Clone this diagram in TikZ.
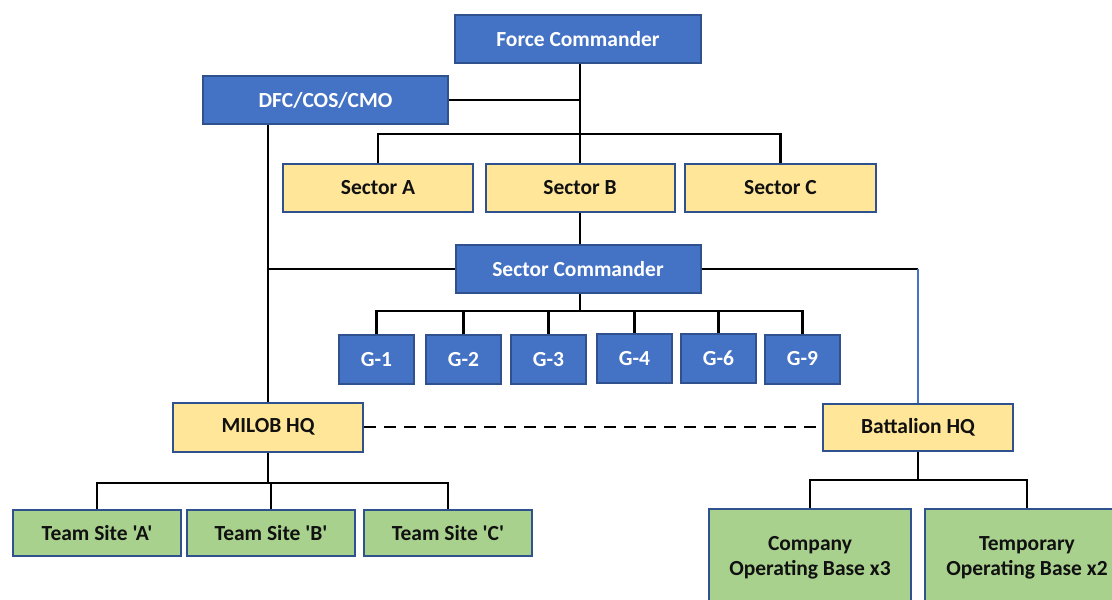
\documentclass[tikz,border=0pt]{standalone}
\usepackage{fontspec}
\setmainfont{Carlito}[Ligatures=TeXOff]
\definecolor{bluefill}{HTML}{4472C4}
\definecolor{boxedge}{HTML}{2F528F}
\definecolor{yelfill}{HTML}{FFE699}
\definecolor{grnfill}{HTML}{A9D18E}
\definecolor{txtdark}{HTML}{111111}
\tikzset{
  basebox/.style={draw=boxedge, line width=2pt, inner sep=0pt, font=\fontsize{21.5}{25}\selectfont\bfseries, align=center},
  bluebox/.style={basebox, fill=bluefill, text=white},
  yelbox/.style={basebox, fill=yelfill, text=txtdark},
  grnbox/.style={basebox, fill=grnfill, text=txtdark},
  conn/.style={draw=black, line width=2.4pt},
  blueconn/.style={draw=bluefill, line width=1.8pt},
  dashconn/.style={draw=black, line width=2.4pt, dash pattern=on 12pt off 8pt}
}
\begin{document}
\begin{tikzpicture}[x=1pt,y=-1pt]
\useasboundingbox (0,0) rectangle (1112,600);
\begin{scope}
\clip (0,0) rectangle (1112,600);
\coordinate (busS) at (580,134);
\coordinate (busG) at (580,311);
\coordinate (busT) at (268,483);
\coordinate (busB) at (918,480);

% nodes
\node[bluebox, minimum width=246pt, minimum height=48pt] (FC) at (578,39) {Force Commander};
\node[bluebox, minimum width=245pt, minimum height=48pt] (DFC) at (325.5,100) {DFC/COS/CMO};
\node[yelbox, minimum width=190pt, minimum height=48pt] (SA) at (378,188) {Sector A};
\node[yelbox, minimum width=189pt, minimum height=48pt] (SB) at (580,188) {Sector B};
\node[yelbox, minimum width=191pt, minimum height=48pt] (SCc) at (780.5,188) {Sector C};
\node[bluebox, minimum width=245pt, minimum height=48pt] (SCmd) at (578,269) {Sector Commander};
\node[bluebox, minimum width=75pt, minimum height=49pt] (G1) at (376.5,359.5) {G-1};
\node[bluebox, minimum width=75pt, minimum height=49pt] (G2) at (463.5,359.5) {G-2};
\node[bluebox, minimum width=75pt, minimum height=49pt] (G3) at (548.5,359.5) {G-3};
\node[bluebox, minimum width=75pt, minimum height=49pt] (G4) at (634.5,358.5) {G-4};
\node[bluebox, minimum width=75pt, minimum height=49pt] (G6) at (718.5,358.5) {G-6};
\node[bluebox, minimum width=75pt, minimum height=49pt] (G9) at (802.5,359) {G-9};
\node[yelbox, minimum width=190pt, minimum height=49pt] (MIL) at (268,427) {MILOB HQ};
\node[yelbox, minimum width=190pt, minimum height=47pt] (BHQ) at (918,427) {Battalion HQ};
\node[grnbox, minimum width=168pt, minimum height=46pt] (TA) at (97,533) {Team Site 'A'};
\node[grnbox, minimum width=168pt, minimum height=46pt] (TB) at (271,533) {Team Site 'B'};
\node[grnbox, minimum width=168pt, minimum height=46pt] (TC) at (448,533) {Team Site 'C'};
\node[grnbox, minimum width=202pt, minimum height=97pt] (COB) at (810,557.5) {Company\\Operating Base x3};
\node[grnbox, minimum width=204pt, minimum height=97pt] (TOB) at (1027,557.5) {Temporary\\Operating Base x2};

% Force commander links
\coordinate (fcs) at (FC.south -| SB.north);
\draw[conn] (fcs) -- (SB.north);
\draw[conn] (DFC.east) -- (DFC.east -| SB.north);
\draw[conn] (SA.north) |- (busS) -| (SCc.north);
\draw[conn] (SB.south) -- (SB.south |- SCmd.north);
% DFC down to MILOB
\draw[conn] (DFC.south -| MIL.north) -- (MIL.north);
\draw[conn] (SCmd.west) -- (SCmd.west -| MIL.north);
% Sector commander to battalion
\coordinate (scb) at (SCmd.east -| BHQ.north);
\draw[conn] (SCmd.east) -- (scb);
\draw[blueconn] (scb) -- (BHQ.north);
% G bus
\draw[conn] (SB.south |- SCmd.south) -- (busG);
\draw[conn] (G1.north) |- (busG) -| (G9.north);
\draw[conn] (G2.north) -- (G2.north |- busG);
\draw[conn] (G3.north) -- (G3.north |- busG);
\draw[conn] (G4.north) -- (G4.north |- busG);
\draw[conn] (G6.north) -- (G6.north |- busG);
% dashed
\draw[dashconn] (MIL.east) -- (BHQ.west);
% team sites
\draw[conn] (MIL.south) -- (busT);
\draw[conn] (TA.north) |- (busT) -| (TC.north);
\draw[conn] (TB.north) -- (TB.north |- busT);
% battalion children
\draw[conn] (BHQ.south) -- (busB);
\draw[conn] (COB.north) |- (busB) -| (TOB.north);
\end{scope}
\end{tikzpicture}
\end{document}
